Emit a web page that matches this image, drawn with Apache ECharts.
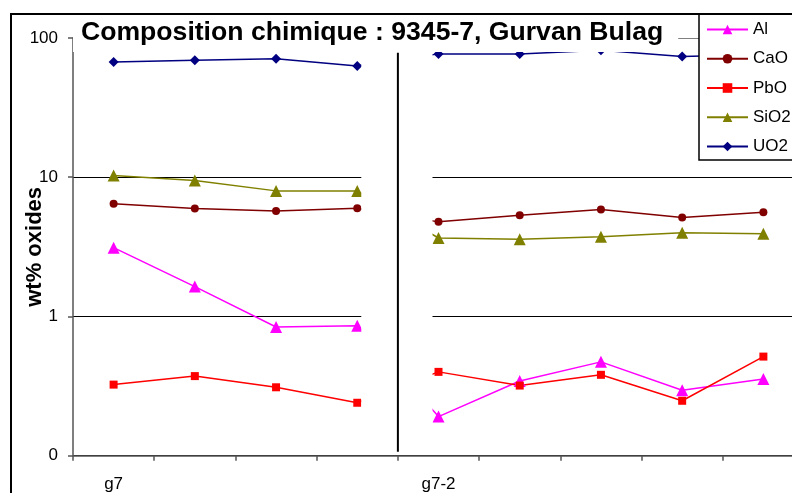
<!DOCTYPE html>
<html>
<head>
<meta charset="utf-8">
<script src="https://cdn.jsdelivr.net/npm/echarts@6/dist/echarts.min.js"></script>
<style>
html,body{margin:0;padding:0;background:#fff;}
#chart{width:792px;height:493px;}
</style>
</head>
<body>
<div id="chart"></div>
<script>
// ---- data ----
const categories = ['g7', 'g7 #2', 'g7 #3', 'g7 #4', 'g7-2', 'g7-2 #2', 'g7-2 #3', 'g7-2 #4', 'g7-2 #5'];
const xTickLabels = ['g7', '', '', '', 'g7-2', '', '', '', ''];
const yTickValues = [0.1, 1, 10, 100];
const yTickLabels = ['0', '1', '10', '100'];
const seriesNames = ['Al', 'CaO', 'PbO', 'SiO2', 'UO2'];
const Al   = [3.12, 1.64, 0.84, 0.857, 0.191, 0.344, 0.472, 0.295, 0.355];
const CaO  = [6.44, 5.96, 5.73, 5.98, 4.78, 5.33, 5.86, 5.13, 5.60];
const PbO  = [0.324, 0.373, 0.310, 0.240, 0.40, 0.319, 0.381, 0.248, 0.515];
const SiO2 = [10.3, 9.47, 7.98, 7.98, 3.66, 3.58, 3.74, 4.0, 3.92];
const UO2  = [67.2, 69.2, 71.0, 62.9, 76.9, 76.9, 81.6, 73.5, 76];
const titleText = 'Composition chimique : 9345-7, Gurvan Bulag';
const yAxisTitle = 'wt% oxides';

// ---- styles ----
const FONT = "'Liberation Sans', Arial, sans-serif";
const styles = {
  Al:   {color: '#FF00FF', symbol: 'triangle', size: 12},
  CaO:  {color: '#800000', symbol: 'circle',   size: 8},
  PbO:  {color: '#FF0000', symbol: 'rect',     size: 8},
  SiO2: {color: '#808000', symbol: 'triangle', size: 12},
  UO2:  {color: '#000080', symbol: 'diamond',  size: 10}
};
const dataMap = {Al, CaO, PbO, SiO2, UO2};

const chart = echarts.init(document.getElementById('chart'), null, {renderer: 'canvas'});

const option = {
  animation: false,
  backgroundColor: '#fff',
  title: {
    text: titleText,
    left: 73, top: 16,
    padding: [2, 15, 4, 8],
    backgroundColor: '#fff',
    textStyle: {fontFamily: FONT, fontWeight: 'bold', fontSize: 26.6, lineHeight: 30, color: '#000'},
    z: 20
  },
  legend: {
    data: seriesNames,
    orient: 'vertical',
    left: 699, top: 14,
    padding: [7, 80, 5, 7],
    itemWidth: 41, itemHeight: 12, itemGap: 12.25,
    backgroundColor: '#fff',
    borderColor: '#000', borderWidth: 1.5, borderRadius: 0,
    textStyle: {fontFamily: FONT, fontSize: 17, lineHeight: 17, color: '#000'},
    z: 20
  },
  grid: {left: 73, top: 38, right: -12, bottom: 37.3, containLabel: false, outerBoundsMode: 'none'},
  xAxis: {
    type: 'category',
    data: categories,
    boundaryGap: true,
    axisLine: {lineStyle: {color: '#555', width: 1.5}},
    axisTick: {show: true, interval: 0, length: 5, lineStyle: {color: '#555', width: 1.5}},
    axisLabel: {
      interval: 0, margin: 20,
      fontFamily: FONT, fontSize: 17, color: '#000',
      formatter: (v, i) => xTickLabels[i]
    },
    splitLine: {show: false}
  },
  yAxis: {
    type: 'log', logBase: 10, min: 0.1, max: 100,
    name: yAxisTitle,
    nameLocation: 'middle', nameRotate: 90, nameGap: 27, nameMoveOverlap: false,
    nameTextStyle: {fontFamily: FONT, fontWeight: 'bold', fontSize: 22, color: '#000'},
    axisLine: {show: true, lineStyle: {color: '#555', width: 1.5}},
    axisTick: {show: true, length: 5, lineStyle: {color: '#555', width: 1.5}},
    axisLabel: {
      margin: 15, fontFamily: FONT, fontSize: 17, color: '#000',
      formatter: v => {
        const idx = yTickValues.findIndex(t => Math.abs(Math.log10(t) - Math.log10(v)) < 1e-6);
        return idx >= 0 ? yTickLabels[idx] : '';
      }
    },
    splitLine: {show: true, lineStyle: {color: ['#000', '#000', '#000', '#808080'], width: 1}}
  },
  series: seriesNames.map(n => ({
    name: n,
    type: 'line',
    data: dataMap[n],
    symbol: styles[n].symbol,
    symbolSize: styles[n].size,
    showAllSymbol: true,
    itemStyle: {color: styles[n].color},
    lineStyle: {color: styles[n].color, width: 1.5},
    z: 3
  }))
};
chart.setOption(option);

// decorations derived from the axes: gap cover between the two groups and separator line
function addDecor() {
  const x3 = chart.convertToPixel({xAxisIndex: 0}, 3);
  const x4 = chart.convertToPixel({xAxisIndex: 0}, 4);
  const yTop = chart.convertToPixel({yAxisIndex: 0}, 100);
  const yBot = chart.convertToPixel({yAxisIndex: 0}, 0.1);
  const sep = (x3 + x4) / 2;
  chart.setOption({
    graphic: [
      {type: 'rect', z: 10, shape: {x: x3 + 4, y: yTop + 1, width: (x4 - 6) - (x3 + 4), height: yBot - yTop - 2.5}, style: {fill: '#fff'}},
      {type: 'line', z: 11, shape: {x1: sep, y1: 52.7, x2: sep, y2: yBot - 4}, style: {stroke: '#000', lineWidth: 2}},
      {type: 'rect', z: 30, shape: {x: 11, y: 14, width: 2000, height: 2000}, style: {fill: 'none', stroke: '#000', lineWidth: 2}}
    ]
  });
}
addDecor();
</script>
</body>
</html>
